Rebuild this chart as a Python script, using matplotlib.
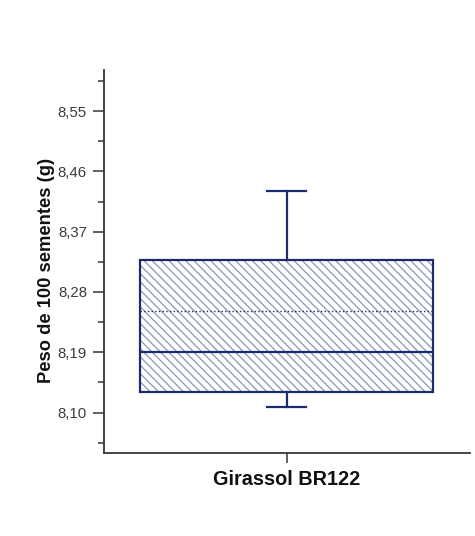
import matplotlib
matplotlib.use("Agg")
import matplotlib.pyplot as plt
from matplotlib.patches import PathPatch
from matplotlib.ticker import FuncFormatter, MultipleLocator
import numpy as np

plt.rcParams["font.family"] = ["Liberation Sans", "DejaVu Sans"]
plt.rcParams["hatch.linewidth"] = 0.9

# Box summary for seed weight (g per 100 seeds)
groups = ["Girassol BR122"]
q1 = [8.130]
median = [8.190]
q3 = [8.327]
mean = [8.252]
whisker_low = [8.109]
whisker_high = [8.430]
y_ticks = [8.10, 8.19, 8.28, 8.37, 8.46, 8.55]

NAVY = "#1c2a6e"
HATCH = "#8a96bb"
AXIS = "#3a3434"

fig = plt.figure(figsize=(4.75, 5.36), dpi=100)
ax = fig.add_axes([0.218, 0.154, 0.771, 0.715])

stats = [dict(label=g, q1=a, med=m, q3=b, mean=mu, whislo=lo, whishi=hi, fliers=[])
         for g, a, m, b, mu, lo, hi in zip(groups, q1, median, q3, mean,
                                          whisker_low, whisker_high)]
bp = ax.bxp(stats, positions=[1], widths=0.8, patch_artist=True,
            showmeans=True, meanline=True, showfliers=False,
            boxprops=dict(facecolor="white", edgecolor=HATCH, linewidth=0,
                          hatch="\\\\\\\\"),
            medianprops=dict(color=NAVY, linewidth=1.6),
            meanprops=dict(color=NAVY, linewidth=1.0, linestyle=":"),
            whiskerprops=dict(color=NAVY, linewidth=1.6),
            capprops=dict(color=NAVY, linewidth=1.6),
            capwidths=0.105)

# hatch uses the light edge colour; outline the box again in navy
for box in bp["boxes"]:
    ax.add_patch(PathPatch(box.get_path(), fill=False, edgecolor=NAVY,
                           linewidth=1.6, zorder=box.get_zorder() + 0.5))

ax.set_xlim(0.5, 1.5)
ax.set_ylim(8.039, 8.611)
ax.set_yticks(y_ticks)
ax.yaxis.set_minor_locator(MultipleLocator(0.045))
ax.yaxis.set_major_formatter(FuncFormatter(lambda v, _: f"{v:.2f}".replace(".", ",")))
ax.set_xticks([1])
ax.set_xticklabels(groups, fontsize=14.3, fontweight="bold", color="#111111")

for side in ["top", "right"]:
    ax.spines[side].set_visible(False)
for side in ["left", "bottom"]:
    ax.spines[side].set_color(AXIS)
    ax.spines[side].set_linewidth(1.3)

ax.tick_params(axis="y", which="major", length=8, width=1.1, color=AXIS,
               labelsize=10.8, labelcolor="#3c3c3c", pad=4)
ax.tick_params(axis="y", which="minor", length=4, width=1.1, color=AXIS)
ax.tick_params(axis="x", which="major", length=7, width=1.1, color=AXIS, pad=5)

ax.set_ylabel("Peso de 100 sementes (g)", fontsize=13.2, fontweight="bold",
              color="#111111")
ax.yaxis.set_label_coords(-0.132, 0.478)

fig.savefig("out.png", dpi=100, facecolor="white")
